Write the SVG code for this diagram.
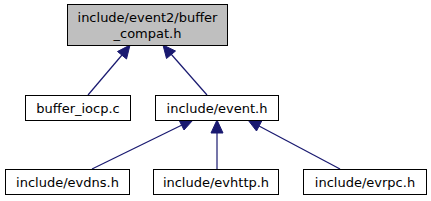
<svg xmlns="http://www.w3.org/2000/svg" width="431" height="201" viewBox="0 0 431 201">
<defs>
<style>
.n rect{fill:#fff;stroke:#000;stroke-width:1}
.n text{font-family:"DejaVu Sans",sans-serif;font-size:13px;text-anchor:middle;fill:#000}
.e line{stroke:#191970;stroke-width:1.2}
.e polygon{fill:#191970;stroke:#191970}
</style>
</defs>
<rect width="431" height="201" fill="#fff"/>
<g class="e" id="edges">
<line x1="88" y1="95" x2="122" y2="55"/>
<polygon points="130,45 126.5,59 117.5,51.5"/>
<line x1="207" y1="95" x2="171" y2="54"/>
<polygon points="163,45 175.5,51 166.5,58.5"/>
<line x1="92" y1="169" x2="182" y2="125"/>
<polygon points="193,120 184,130 179,120"/>
<line x1="217" y1="169" x2="217" y2="132"/>
<polygon points="217,120 223,133 211,133"/>
<line x1="340" y1="169" x2="259" y2="126"/>
<polygon points="248,120 262,120.5 256.5,131"/>
</g>
<g class="n" id="node1"><rect x="67.5" y="4.5" width="160" height="41" style="fill:#bfbfbf"/><text x="147.5" y="22">include/event2/buffer</text><text x="147.5" y="38">_compat.h</text></g>
<g class="n" id="node2"><rect x="25.5" y="95.5" width="105" height="25"/><text x="78" y="113">buffer_iocp.c</text></g>
<g class="n" id="node3"><rect x="155.5" y="95.5" width="123" height="25"/><text x="217" y="113">include/event.h</text></g>
<g class="n" id="node4"><rect x="5.5" y="169.5" width="124" height="25"/><text x="67.5" y="187">include/evdns.h</text></g>
<g class="n" id="node5"><rect x="153.5" y="169.5" width="125" height="25"/><text x="216" y="187">include/evhttp.h</text></g>
<g class="n" id="node6"><rect x="303.5" y="169.5" width="123" height="25"/><text x="365" y="187">include/evrpc.h</text></g>
</svg>
